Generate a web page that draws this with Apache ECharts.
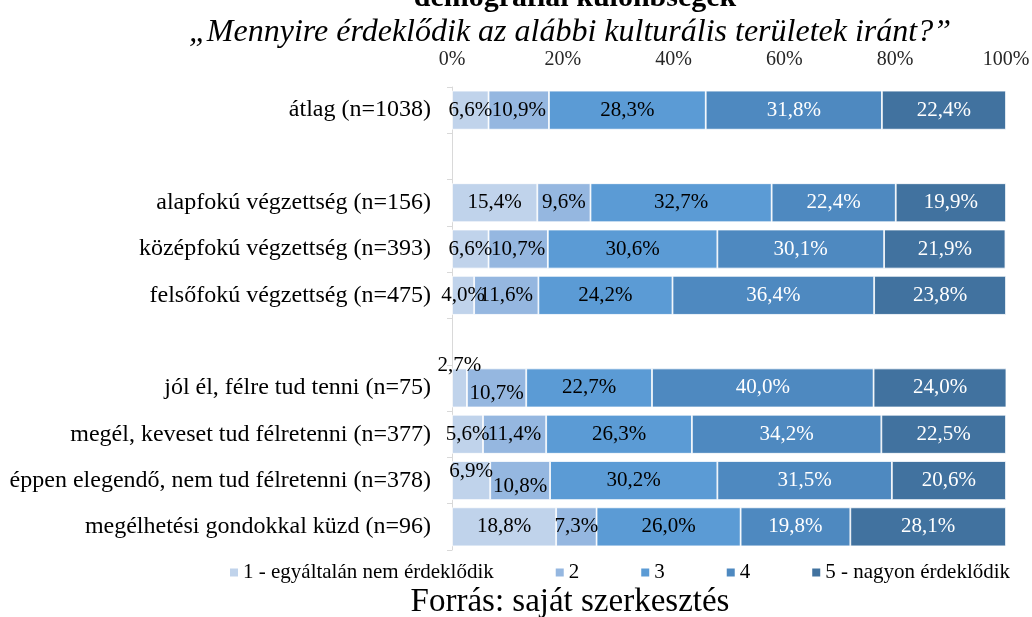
<!DOCTYPE html>
<html>
<head>
<meta charset="utf-8">
<script src="https://cdn.jsdelivr.net/npm/echarts@6/dist/echarts.min.js"></script>
<style>
  html, body { margin: 0; padding: 0; background: #fff; }
  #chart { width: 1032px; height: 617px; }
</style>
</head>
<body>
<div id="chart"></div>
<script>
// categories, top to bottom ('' = empty spacer row)
var categories = [
  'átlag (n=1038)',
  '',
  'alapfokú végzettség (n=156)',
  'középfokú végzettség (n=393)',
  'felsőfokú végzettség (n=475)',
  '',
  'jól él, félre tud tenni (n=75)',
  'megél, keveset tud félretenni (n=377)',
  'éppen elegendő, nem tud félretenni (n=378)',
  'megélhetési gondokkal küzd (n=96)'
];
var seriesNames = ['1 - egyáltalán nem érdeklődik', '2', '3', '4', '5 - nagyon érdeklődik'];

var s1 = [6.6, '-', 15.4, 6.6, 4.0, '-', 2.7, 5.6, 6.9, 18.8];
var s2 = [10.9, '-', 9.6, 10.7, 11.6, '-', 10.7, 11.4, 10.8, 7.3];
var s3 = [28.3, '-', 32.7, 30.6, 24.2, '-', 22.7, 26.3, 30.2, 26.0];
var s4 = [31.8, '-', 22.4, 30.1, 36.4, '-', 40.0, 34.2, 31.5, 19.8];
var s5 = [22.4, '-', 19.9, 21.9, 23.8, '-', 24.0, 22.5, 20.6, 28.1];
var allSeries = [s1, s2, s3, s4, s5];

var xTicks = [0, 20, 40, 60, 80, 100];

var colors = ['#C0D3EB', '#95B7E0', '#5B9BD5', '#4E89C0', '#41729F'];
var labelColors = ['#000', '#000', '#000', '#fff', '#fff'];
// label nudges where Excel moved overlapping labels: [series-row] -> [dx, dy]
var labelNudge = { '0-6': [0, -22], '0-8': [0, -9], '1-8': [0, 6], '1-6': [0, 6] };

var font = '"Liberation Serif", "Times New Roman", serif';

function fmt(v) { return v.toFixed(1).replace('.', ',') + '%'; }

var chart = echarts.init(document.getElementById('chart'));

var series = allSeries.map(function (vals, si) {
  return {
    name: seriesNames[si],
    type: 'bar',
    stack: 'total',
    barWidth: 39,
    itemStyle: { color: colors[si], borderColor: '#fff', borderWidth: 0.8 },
    label: {
      show: true,
      position: 'inside',
      fontFamily: font,
      fontSize: 21,
      color: labelColors[si],
      formatter: function (p) { return fmt(p.value); }
    },
    data: vals.map(function (v, ri) {
      var item = { value: v };
      var n = labelNudge[si + '-' + ri];
      if (n) item.label = { offset: n };
      return item;
    })
  };
});

chart.setOption({
  animation: false,
  title: [
    {
      text: 'demográfiai különbségek',
      left: 570, top: -22, textAlign: 'center',
      textStyle: { fontFamily: font, fontSize: 30, fontWeight: 'bold', color: '#000' }
    },
    {
      text: '\u201EMennyire érdeklődik az alábbi kulturális területek iránt?\u201D',
      left: 565, top: 12, textAlign: 'center',
      textStyle: { fontFamily: font, fontSize: 32, fontStyle: 'italic', fontWeight: 'normal', color: '#000' }
    },
    {
      text: 'Forrás: saját szerkesztés',
      left: 565, top: 581, textAlign: 'center',
      textStyle: { fontFamily: font, fontSize: 33, fontWeight: 'normal', color: '#000' }
    }
  ],
  legend: {
    top: 557,
    left: 223,
    itemWidth: 10,
    itemHeight: 10,
    itemGap: 60,
    icon: 'rect',
    textStyle: { fontFamily: font, fontSize: 21, color: '#000', padding: [0, 0, 0, -1] },
    data: seriesNames
  },
  grid: { left: 452, right: 26, top: 87, bottom: 67, containLabel: false, outerBoundsMode: 'none' },
  xAxis: {
    type: 'value',
    position: 'top',
    min: xTicks[0],
    max: xTicks[xTicks.length - 1],
    interval: 20,
    axisLine: { show: false },
    axisTick: { show: false },
    splitLine: { show: false },
    axisLabel: { formatter: '{value}%', fontFamily: font, fontSize: 20, color: '#262626', margin: 17 }
  },
  yAxis: {
    type: 'category',
    inverse: true,
    data: categories,
    axisLine: { show: true, lineStyle: { color: '#D9D9D9', width: 1 } },
    axisTick: { show: true, length: 5, lineStyle: { color: '#D9D9D9' } },
    axisLabel: { fontFamily: font, fontSize: 24, color: '#000', margin: 21 }
  },
  series: series
});
</script>
</body>
</html>
